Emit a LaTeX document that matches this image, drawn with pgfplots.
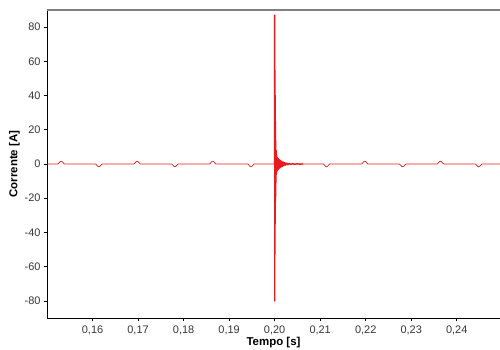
\documentclass[border=0pt]{standalone}
\usepackage{fontspec}
\setmainfont{Liberation Sans}
\usepackage{pgfplots}
\pgfplotsset{compat=1.18}
\definecolor{sig}{RGB}{232,28,28}
\definecolor{tickc}{RGB}{55,55,55}
\begin{document}
\begin{tikzpicture}
\begin{axis}[
  scale only axis,
  width=453bp, height=308bp,
  xmin=0.15, xmax=0.2495,
  ymin=-90, ymax=90,
  axis x line*=bottom,
  axis y line*=left,
  axis line style={black, line width=0.9pt},
  xtick={0.16,0.17,0.18,0.19,0.20,0.21,0.22,0.23,0.24},
  ytick={-80,-60,-40,-20,0,20,40,60,80},
  xticklabel style={yshift=-1bp, /pgf/number format/.cd, fixed, fixed zerofill, precision=2, use comma},
  scaled x ticks=false,
  /pgf/number format/assume math mode=true,
  tick align=outside,
  major tick length=3bp,
  tick style={black, line width=0.6pt},
  ticklabel style={font=\fontsize{11}{12}\selectfont, text=tickc},
  xlabel={\textbf{Tempo [s]}},
  ylabel={\textbf{Corrente [A]}},
  label style={font=\fontsize{11.5}{13}\selectfont},
  xlabel style={yshift=4bp},
  ylabel style={yshift=-2bp},
  clip=true,
]
\addplot[sig, line width=0.7pt] coordinates {
(0.1500,0)
(0.1524,0)(0.1527,0.8)(0.1529,1.4)(0.1531,1.6)(0.1533,1.4)(0.1535,0.8)(0.1538,0)
(0.1607,0)(0.1610,-0.8)(0.1612,-1.4)(0.1614,-1.6)(0.1616,-1.4)(0.1618,-0.8)(0.1621,0)
(0.1691,0)(0.1694,0.8)(0.1696,1.4)(0.1698,1.6)(0.1700,1.4)(0.1702,0.8)(0.1705,0)
(0.1774,0)(0.1777,-0.8)(0.1779,-1.4)(0.1781,-1.6)(0.1783,-1.4)(0.1785,-0.8)(0.1788,0)
(0.1857,0)(0.1860,0.8)(0.1862,1.4)(0.1864,1.6)(0.1866,1.4)(0.1868,0.8)(0.1871,0)
(0.1941,0)(0.1944,-0.8)(0.1946,-1.4)(0.1948,-1.6)(0.1950,-1.4)(0.1952,-0.8)(0.1955,0)
(0.19995,0)
(0.20620,0)
(0.2107,0)(0.2110,-0.8)(0.2112,-1.4)(0.2114,-1.6)(0.2116,-1.4)(0.2118,-0.8)(0.2121,0)
(0.2191,0)(0.2194,0.8)(0.2196,1.4)(0.2198,1.6)(0.2200,1.4)(0.2202,0.8)(0.2205,0)
(0.2274,0)(0.2277,-0.8)(0.2279,-1.4)(0.2281,-1.6)(0.2283,-1.4)(0.2285,-0.8)(0.2288,0)
(0.2357,0)(0.2360,0.8)(0.2362,1.4)(0.2364,1.6)(0.2366,1.4)(0.2368,0.8)(0.2371,0)
(0.2441,0)(0.2444,-0.8)(0.2446,-1.4)(0.2448,-1.6)(0.2450,-1.4)(0.2452,-0.8)(0.2455,0)
(0.2495,0)
};
\addplot[sig, line width=1.3pt, line join=round] coordinates {
(0.19995,0)
(0.20000,87)
(0.20003,-80)
(0.20006,55)
(0.20009,-53)
(0.20012,40)
(0.20015,-35)
(0.20018,25)
(0.20021,-20)
(0.20025,14)
(0.20029,-11)
(0.20033,8)
(0.20038,-6)
(0.20043,5)
(0.20049,-4.5)
(0.20055,4)
(0.20062,-3.8)
(0.20070,3.5)
(0.20078,-3.2)
(0.20087,3.0)
(0.20096,-2.7)
(0.20106,2.5)
(0.20117,-2.2)
(0.20129,2.0)
(0.20142,-1.8)
(0.20156,1.6)
(0.20171,-1.4)
(0.20187,1.2)
(0.20204,-1.0)
(0.20222,0.9)
(0.20242,-0.7)
(0.20264,0.6)
(0.20290,-0.5)
(0.20320,0.4)
(0.20355,-0.3)
(0.20395,0.25)
(0.20440,-0.2)
(0.20490,0.15)
(0.20550,-0.1)
(0.20620,0)
};
\end{axis}
\draw[gray, line width=1.2pt] (current axis.north west) -- (current axis.north east);
\pgfresetboundingbox
\path ([shift={(-47bp,-32bp)}]current axis.south west) rectangle ([shift={(0bp,10bp)}]current axis.north east);
\end{tikzpicture}
\end{document}
